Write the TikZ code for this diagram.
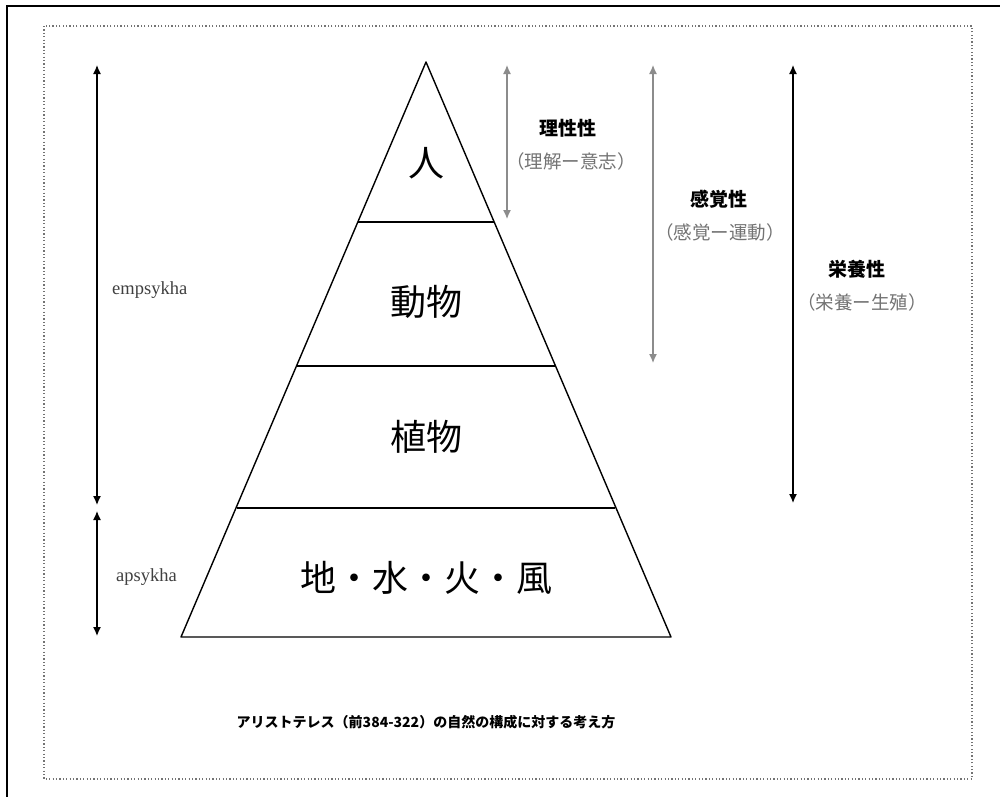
\documentclass[tikz,border=0pt]{standalone}
\usepackage{fontspec}
\setmainfont{Noto Sans CJK JP}
\newfontfamily\serifen{Liberation Serif}
\usetikzlibrary{arrows.meta}
\begin{document}
\begin{tikzpicture}[x=1pt,y=-1pt,
  tier/.style={font=\fontsize{36}{40}\selectfont, inner sep=0pt},
  blab/.style={font=\fontsize{19}{21}\selectfont\bfseries, inner sep=0pt},
  glab/.style={font=\fontsize{18.5}{21}\selectfont, text=black!55, inner sep=0pt},
  elab/.style={font=\serifen\fontsize{18.5}{21}\selectfont, text=black!75, inner sep=0pt},
  darr/.style={line width=1.3pt, {Latex[length=9pt,width=8pt]}-{Latex[length=9pt,width=8pt]}},
  garr/.style={darr, draw=black!45},
  edge/.style={line width=1.4pt, line join=round}]
\useasboundingbox (0,0) rectangle (1000,796);
\fill[white] (0,0) rectangle (1000,796);
% outer frame lines
\draw[line width=2.8pt] (7,800) -- (7,6) -- (1005,6);
% dotted border
\draw[black!55, line width=1.2pt, dash pattern=on 1.2pt off 2.2pt] (44,26) rectangle (972,779);
% pyramid
\coordinate (apex) at (426,62);
\coordinate (bl) at (181,637);
\coordinate (br) at (671,637);
\draw[edge] (apex) -- (bl) -- (br) -- cycle;
\coordinate (l1) at (358,222); \coordinate (r1) at (494,222);
\coordinate (l2) at (297,366); \coordinate (r2) at (555,366);
\coordinate (l3) at (237,508); \coordinate (r3) at (615,508);
\draw[edge] (l1) -- (r1);
\draw[edge] (l2) -- (r2);
\draw[edge] (l3) -- (r3);
\node[tier] (hito) at (426,163) {人};
\node[tier] (dobutsu) at (426,302) {動物};
\node[tier] (shokubutsu) at (426,437) {植物};
\node[tier] (elem) at (426,578) {地・水・火・風};
% left arrows
\coordinate (e1) at (97,65); \coordinate (e2) at (97,505);
\coordinate (a1) at (97,511); \coordinate (a2) at (97,636);
\draw[darr] (e1) -- (e2);
\draw[darr] (a1) -- (a2);
\node[elab, anchor=west] (emp) at (112,290) {empsykha};
\node[elab, anchor=west] (aps) at (116,577) {apsykha};
% right arrows
\coordinate (r1a) at (507,65); \coordinate (r1b) at (507,219);
\coordinate (r2a) at (653,65); \coordinate (r2b) at (653,363);
\coordinate (r3a) at (793,65); \coordinate (r3b) at (793,503);
\draw[garr] (r1a) -- (r1b);
\draw[garr] (r2a) -- (r2b);
\draw[darr] (r3a) -- (r3b);
\node[blab] (riseisei) at (568,128) {理性性};
\node[glab] (riseisub) at (571,161) {（理解ー意志）};
\node[blab] (kankaku) at (719,199) {感覚性};
\node[glab] (kankakusub) at (720,232) {（感覚ー運動）};
\node[blab] (eiyou) at (857,269) {栄養性};
\node[glab] (eiyousub) at (862,302) {（栄養ー生殖）};
% caption
\node[font=\fontsize{14}{18}\selectfont\bfseries, inner sep=0pt] (cap) at (426,722) {アリストテレス（前384-322）の自然の構成に対する考え方};
\end{tikzpicture}
\end{document}
